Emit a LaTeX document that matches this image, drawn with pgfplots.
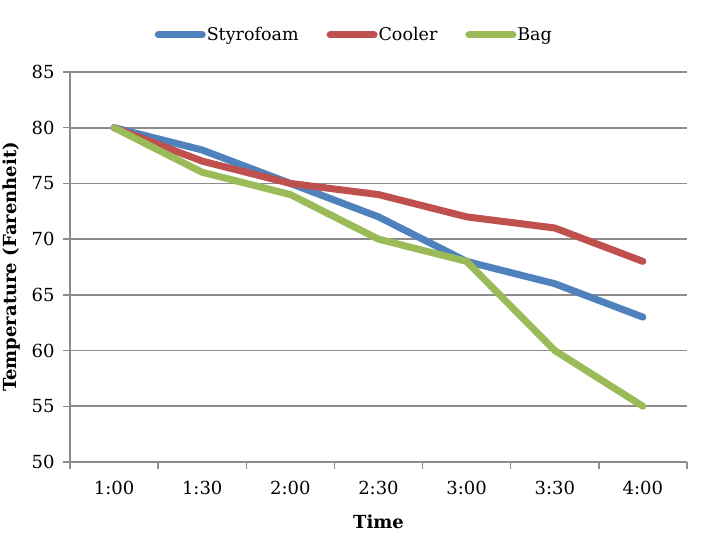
\documentclass[border=0pt]{standalone}
\usepackage{fontspec}
\setmainfont{DejaVu Serif}
\usepackage{pgfplots}
\pgfplotsset{compat=1.18}
\definecolor{cblue}{HTML}{4F81BD}
\definecolor{cred}{HTML}{C0504D}
\definecolor{cgreen}{HTML}{9BBB59}
\definecolor{cgrid}{HTML}{8C8C8C}
\begin{document}
\begin{tikzpicture}
\useasboundingbox (-70bp,-88bp) rectangle (631bp,462bp);
\begin{axis}[
  at={(0,0)}, anchor=south west,
  scale only axis, width=617bp, height=390bp,
  xmin=-0.5, xmax=6.5, ymin=50, ymax=85,
  ytick={50,55,...,85},
  xtick={-0.5,0.5,...,6.5}, xticklabels={},
  extra x ticks={0,1,2,3,4,5,6},
  extra x tick labels={1:00,1:30,2:00,2:30,3:00,3:30,4:00},
  extra x tick style={major tick length=0pt, grid=none},
  axis x line*=bottom, axis y line*=left,
  axis line style={cgrid, line width=1.8bp, -},
  every tick/.style={cgrid, line width=1.4bp},
  tick align=outside, major tick length=7bp,
  ymajorgrids, grid style={cgrid, line width=1.8bp},
  font=\fontsize{18bp}{21bp}\selectfont,
  /pgf/number format/assume math mode=true,
  yticklabel style={xshift=-5bp},
  xticklabel style={yshift=-16bp},
  xlabel={\textbf{Time}},
  ylabel={\textbf{Temperature (Farenheit)}},
  label style={font=\fontsize{18bp}{21bp}\selectfont},
  xlabel style={yshift=-6bp},
  ylabel style={yshift=4bp},
  legend columns=3,
  legend style={draw=none, at={(0.46,1.095)}, anchor=center,
    font=\fontsize{17.5bp}{20bp}\selectfont,
    /tikz/every even column/.append style={column sep=27bp},
    nodes={inner sep=1bp}},
  legend image code/.code={\draw[#1] (0bp,0bp) -- (44bp,0bp);},
  every axis plot/.append style={line width=7bp, line cap=round, line join=round},
]
\addplot[cblue] coordinates {(0,80) (1,78) (2,75) (3,72) (4,68) (5,66) (6,63)};
\addlegendentry{Styrofoam}
\addplot[cred] coordinates {(0,80) (1,77) (2,75) (3,74) (4,72) (5,71) (6,68)};
\addlegendentry{Cooler}
\addplot[cgreen] coordinates {(0,80) (1,76) (2,74) (3,70) (4,68) (5,60) (6,55)};
\addlegendentry{Bag}
\end{axis}
\end{tikzpicture}
\end{document}
